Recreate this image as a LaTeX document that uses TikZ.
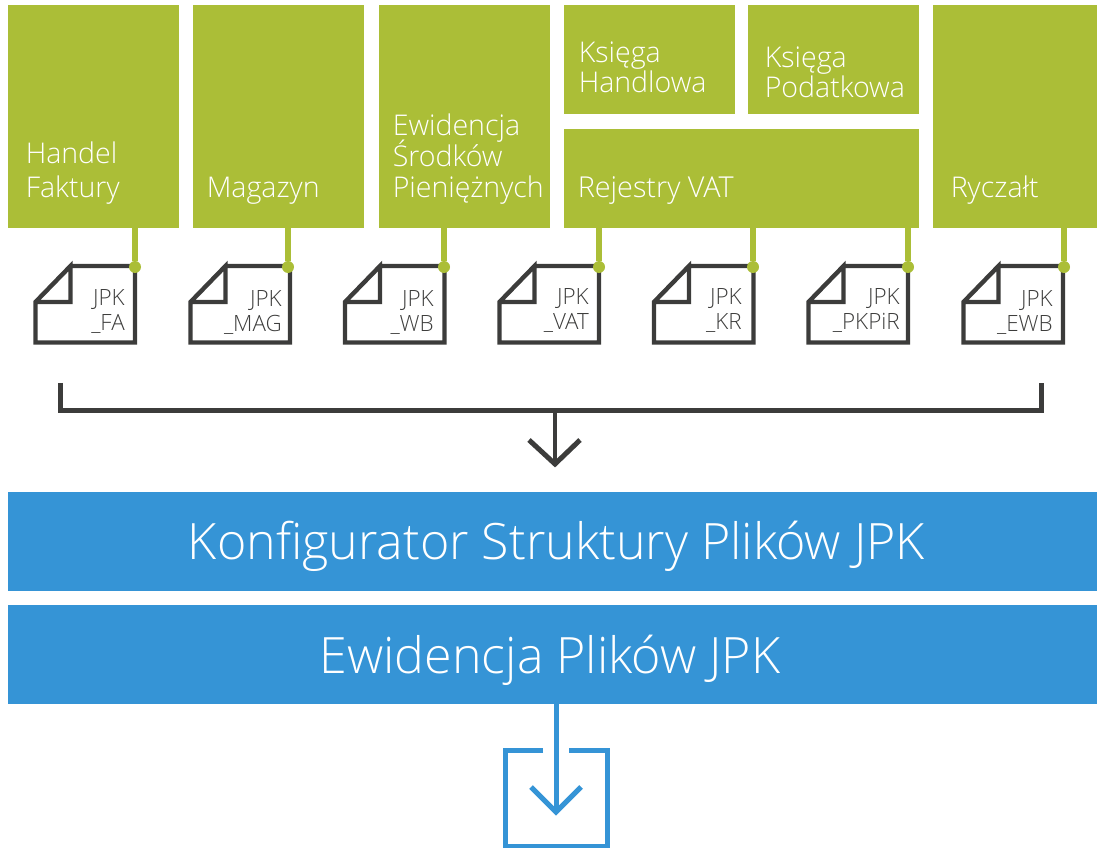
\documentclass[tikz,border=0pt]{standalone}
\usepackage{fontspec}
\setmainfont{Open Sans}[UprightFont=* Light]
\definecolor{grn}{HTML}{ABBE37}
\definecolor{blu}{HTML}{3594D6}
\definecolor{drk}{HTML}{3C3C3B}
\newcommand{\tightlines}{\lineskiplimit=-100pt\relax}
\tikzset{
 x=0.75pt,y=-0.75pt,
 blockg/.style={rectangle,fill=grn,inner sep=0,outer sep=0},
 blockb/.style={rectangle,fill=blu,inner sep=0,outer sep=0},
 gtext/.style={text=white,anchor=base west,inner sep=0,align=left,font=\fontsize{21.4}{23.25}\selectfont\tightlines},
 gtextw/.style={text=white,anchor=base west,inner sep=0,align=left,font=\fontsize{21.4}{25.5}\selectfont\tightlines},
 gtextn/.style={text=white,anchor=base west,inner sep=0,align=left,font=\fontsize{21.4}{22.5}\selectfont\tightlines},
 btext/.style={text=white,anchor=base,inner sep=0,font=\fontsize{37.6}{44}\selectfont},
 dot/.style={circle,fill=grn,inner sep=0,minimum size=9pt,outer sep=0},
 tie/.style={draw=grn,line width=4.5pt},
 doc/.style={draw=drk,line width=3.3pt,miter limit=10},
 dtext/.style={text=drk,anchor=base east,inner sep=0,align=right,font=\fontsize{16.8}{18.75}\selectfont},
 darkl/.style={draw=drk,line width=3.75pt},
 bluel/.style={draw=blu,line width=3.75pt},
}
\newcommand{\docicon}[4]{%
 % name, right x, dot x, box name
 \draw[doc] ({#2-64.5},266) -- (#2,266) -- (#2,342.5) -- ({#2-99.5},342.5) -- ({#2-99.5},302) -- ({#2-64.5},266) -- ({#2-64.5},302) -- ({#2-99.5},302);
 \node[dot] (#1) at (#3,267) {};
 \draw[tie] (#1 |- #4) -- (#1);
}
\begin{document}
\begin{tikzpicture}
\useasboundingbox (0,0) rectangle (1097,848);
% green blocks
\node[blockg,minimum width=128.25pt,minimum height=167.25pt,anchor=north west] (handel) at (8,5) {};
\node[blockg,minimum width=128.25pt,minimum height=167.25pt,anchor=north west] (magazyn) at (193,5) {};
\node[blockg,minimum width=128.25pt,minimum height=167.25pt,anchor=north west] (ewid) at (379,5) {};
\node[blockg,minimum width=128.25pt,minimum height=81.75pt,anchor=north west] (khandl) at (564,5) {};
\node[blockg,minimum width=128.25pt,minimum height=81.75pt,anchor=north west] (kpodat) at (748,5) {};
\node[blockg,minimum width=266.25pt,minimum height=74.25pt,anchor=north west] (rej) at (564,129) {};
\node[blockg,minimum width=123pt,minimum height=167.25pt,anchor=north west] (rycz) at (933,5) {};
\node[gtextw] (t1) at (25.5,198) {Handel\\Faktury};
\node[gtext] (t2) at (206.5,197.5) {Magazyn};
\node[gtext] (t3) at (392.5,198) {Ewidencja\\Środków\\Pieniężnych};
\node[gtextn] (t4) at (578.5,93) {Księga\\Handlowa};
\node[gtextn] (t5) at (764.5,97.5) {Księga\\Podatkowa};
\node[gtext,font=\fontsize{21.6}{24}\selectfont] (t6) at (577.5,197.5) {Rejestry VAT};
\node[gtext] (t7) at (950.5,197.5) {Ryczałt};
% documents
\docicon{dfa}{135}{135}{handel.south}
\docicon{dmag}{290}{288}{magazyn.south}
\docicon{dwb}{444.5}{444}{ewid.south}
\docicon{dvat}{599}{599}{rej.south}
\docicon{dkr}{753.5}{753}{rej.south}
\docicon{dpk}{908}{908}{rej.south}
\docicon{dewb}{1063}{1064}{rycz.south}
\node[dtext] (dfat) at (125,331) {JPK\\\_FA};
\node[dtext] (dmagt) at (282,332) {JPK\\\_MAG};
\node[dtext] (dwbt) at (434,332) {JPK\\\_WB};
\node[dtext] (dvatt) at (589,330) {JPK\\\_VAT};
\node[dtext] (dkrt) at (742,330) {JPK\\\_KR};
\node[dtext] (dpkt) at (900,330) {JPK\\\_PKPiR};
\node[dtext] (dewbt) at (1053,332) {JPK\\\_EWB};
% bracket and arrow
\coordinate (bl) at (60,383);
\coordinate (br) at (1041,383);
\coordinate (bm) at (555,411);
\coordinate (tip) at (555,464);
\draw[darkl] (bl) -- (bl |- bm) -- (br |- bm) -- (br);
\draw[draw=drk,line width=3pt] (bm) -- (tip);
\draw[darkl,miter limit=10] (529,440) -- (tip) -- (580,440);
% blue bars
\node[blockb,minimum width=816.75pt,minimum height=74.25pt,anchor=north west] (konf) at (8,492) {};
\node[blockb,minimum width=816.75pt,minimum height=74.25pt,anchor=north west] (ewp) at (8,605) {};
\node[btext] (kt) at (556.5,560) {Konfigurator Struktury Plików JPK};
\node[btext] (et) at (550,673) {Ewidencja Plików JPK};
% output
\coordinate (otip) at (556,812);
\draw[bluel] (ewp.south -| otip) -- (otip);
\draw[bluel,miter limit=10] (531,787) -- (otip) -- (581,787);
\coordinate (o1) at (543,750);
\coordinate (o2) at (569,750);
\draw[bluel] (o1) -- (505,750) -- (505,846) -- (607,846) -- (607,750) -- (o2);
\end{tikzpicture}
\end{document}
